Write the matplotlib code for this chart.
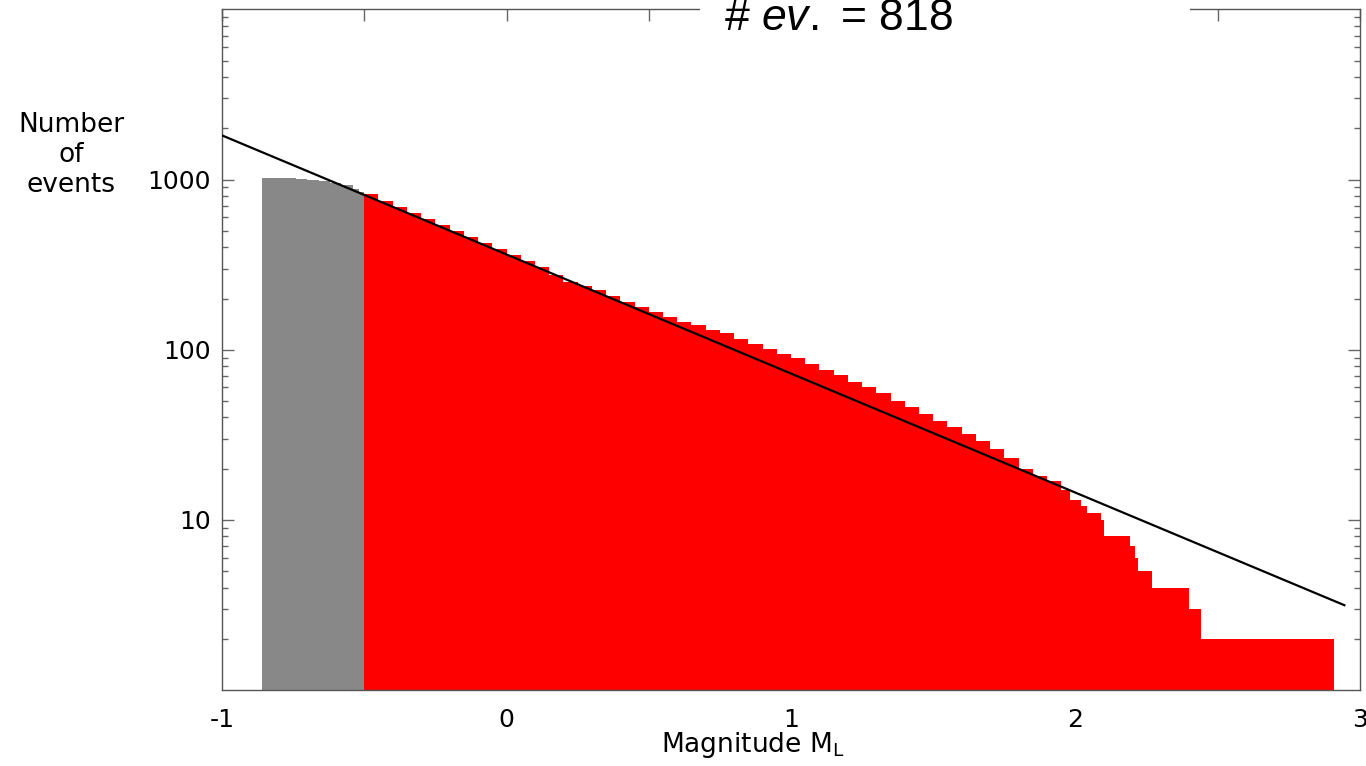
import numpy as np
import matplotlib
matplotlib.use("Agg")
import matplotlib.pyplot as plt
from matplotlib.patches import Rectangle

plt.rcParams['axes.unicode_minus'] = False
plt.rcParams['mathtext.fontset'] = 'custom'
plt.rcParams['mathtext.rm'] = 'Liberation Sans'
plt.rcParams['mathtext.it'] = 'Liberation Sans:italic'

# cumulative number of events N(>=M), step left edges and counts
grey_edges = [-0.86, -0.82, -0.78, -0.74, -0.70, -0.66, -0.62, -0.58, -0.54,
              -0.52, -0.50]
grey_counts = [1023, 1021, 1017, 1010, 998, 982, 960, 930, 885, 850]

red_edges = [-0.50, -0.45, -0.40, -0.35, -0.30, -0.25, -0.20, -0.15, -0.10, -0.05,
             0.00, 0.05, 0.10, 0.15, 0.20, 0.25, 0.30, 0.35, 0.40, 0.45,
             0.50, 0.55, 0.60, 0.65, 0.70, 0.75, 0.80, 0.85, 0.90, 0.95,
             1.00, 1.05, 1.10, 1.15, 1.20, 1.25, 1.30, 1.35, 1.40, 1.45,
             1.50, 1.55, 1.60, 1.65, 1.70, 1.75, 1.80, 1.85, 1.90, 1.95,
             1.98, 2.02, 2.04, 2.09, 2.10, 2.19, 2.21, 2.22, 2.27, 2.40,
             2.44, 2.91]
red_counts = [818, 752, 692, 639, 590, 544, 502, 458, 425, 392,
              362, 333, 305, 275, 250, 236, 224, 208, 192, 178,
              167, 156, 145, 139, 131, 125, 116, 108, 101, 95,
              89, 82, 76, 71, 65, 60, 56, 50, 46, 42,
              38, 35, 32, 29, 26, 23, 20, 18, 17, 15,
              13, 12, 11, 10, 8, 7, 6, 5, 4, 3,
              2]

# Gutenberg-Richter fit log10 N = a - b M
a_val, b_val = 2.56, 0.70
fit_range = [-1.0, 2.945]
n_events = 818

fig = plt.figure(figsize=(13.66, 7.66), dpi=100)
ax = fig.add_axes([222/1366, 1 - 690/766, 1138/1366, 680.5/766])

ax.stairs(grey_counts, grey_edges, baseline=1, fill=True, color='#888888', lw=0)
ax.stairs(red_counts, red_edges, baseline=1, fill=True, color='#ff0000', lw=0)

xf = np.array(fit_range)
ax.plot(xf, 10 ** (a_val - b_val * xf), color='black', lw=1.6, zorder=5)

ax.set_yscale('log')
ax.set_xlim(-1, 3)
ax.set_ylim(1, 10000)

ax.set_xticks([-1, 0, 1, 2, 3])
ax.set_xticks(np.arange(-0.5, 3, 0.5), minor=True)
ax.set_yticks([10, 100, 1000])
ax.set_yticklabels(['10', '100', '1000'])
ax.tick_params(axis='x', which='both', direction='in', bottom=False, top=True,
               length=8.5, width=1, color='#666666', labelsize=18, pad=13)
ax.tick_params(axis='y', which='major', direction='in', left=True, right=True,
               length=8.5, width=1, color='#666666', labelsize=18, pad=8)
ax.tick_params(axis='y', which='minor', direction='in', left=True, right=True,
               length=4.3, width=1, color='#666666', labelleft=False)
for s in ax.spines.values():
    s.set_color('#555555')
    s.set_linewidth(1)

fig.text(71/1366, 1 - 155/766, 'Number\nof\nevents', ha='center', va='center',
         multialignment='center', fontsize=19)
fig.text(753/1366, 1 - 745/766, r'Magnitude M$_\mathregular{L}$', ha='center',
         va='center', fontsize=19)

# white box behind the title, covering the frame
fig.add_artist(Rectangle((700/1366, 1 - 40/766), 490/1366, 40/766,
                         transform=fig.transFigure, facecolor='white',
                         edgecolor='none', zorder=3))
fig.text(838/1366, 1 - 19/766, r'# $\mathit{ev.}$ = %d' % n_events, ha='center',
         va='center', fontsize=32, family='Liberation Sans', zorder=4)

fig.savefig('out.png', dpi=100)
